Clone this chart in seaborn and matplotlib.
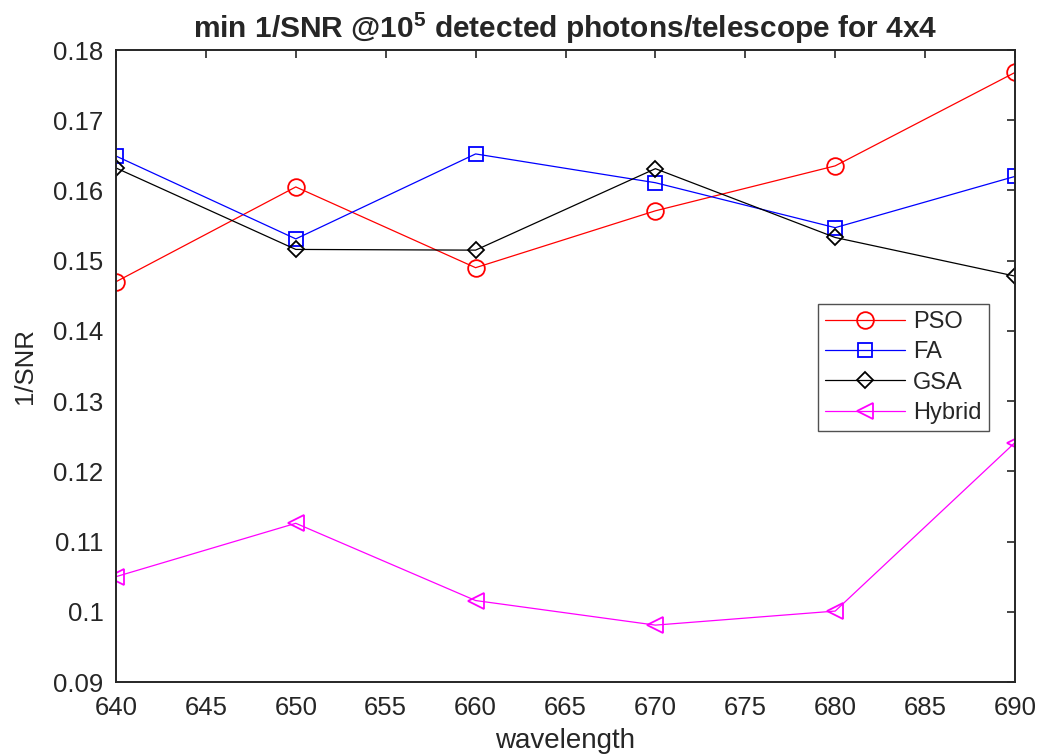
import matplotlib
matplotlib.use("Agg")
import matplotlib.pyplot as plt
import seaborn as sns
import pandas as pd
from matplotlib.ticker import MultipleLocator, FuncFormatter

# Wavelengths (nm) and minimum 1/SNR per optimiser
wavelength = [640, 650, 660, 670, 680, 690]
pso = [0.1470, 0.1605, 0.1490, 0.1571, 0.1635, 0.1768]
fa = [0.1649, 0.1531, 0.1652, 0.1611, 0.1547, 0.1620]
gsa = [0.1632, 0.1516, 0.1515, 0.1631, 0.1533, 0.1478]
hybrid = [0.1050, 0.1126, 0.1016, 0.0981, 0.1001, 0.1241]

series_names = ["PSO", "FA", "GSA", "Hybrid"]
series_values = [pso, fa, gsa, hybrid]
colors = ["#ff0000", "#0000ff", "#000000", "#ff00ff"]
markers = ["o", "s", "D", "<"]
msizes = [12, 9.5, 8.5, 12]

sns.set_style("white")
plt.rcParams["font.family"] = ["Liberation Sans", "DejaVu Sans"]
plt.rcParams["mathtext.fontset"] = "custom"
plt.rcParams["mathtext.rm"] = "Liberation Sans:bold"
plt.rcParams["mathtext.default"] = "rm"

df = pd.DataFrame({
    "wavelength": wavelength * len(series_names),
    "value": sum(series_values, []),
    "method": sum([[n] * len(wavelength) for n in series_names], []),
})

fig = plt.figure(figsize=(10.39, 7.56), dpi=100)
ax = fig.add_axes([116 / 1039, 1 - 682 / 756, (1015 - 116) / 1039, (682 - 50) / 756])

for name, c, m, ms in zip(series_names, colors, markers, msizes):
    sub = df[df["method"] == name]
    sns.lineplot(data=sub, x="wavelength", y="value", ax=ax, color=c, lw=0.9,
                 marker=m, markersize=ms, markerfacecolor="none",
                 markeredgecolor=c, markeredgewidth=1.3, label=name)

ax.set_xlim(640, 690)
ax.set_ylim(0.09, 0.18)
ax.xaxis.set_major_locator(MultipleLocator(5))
ax.yaxis.set_major_locator(MultipleLocator(0.01))
ax.yaxis.set_major_formatter(FuncFormatter(lambda v, p: f"{v:.2f}".rstrip("0")))
ax.tick_params(direction="in", length=6, width=1.2, top=True, right=True,
               labelsize=18.5, colors="#262626")
ax.tick_params(axis="x", pad=10)
ax.tick_params(axis="y", pad=9)
for s in ax.spines.values():
    s.set_color("#262626")
    s.set_linewidth(1.4)

ax.set_xlabel("wavelength", fontsize=20, color="#262626", labelpad=6)
ax.set_ylabel("1/SNR", fontsize=18.5, color="#262626", labelpad=12)
ax.set_title(r"min 1/SNR @10$^{5}$ detected photons/telescope for 4x4",
             fontsize=21.5, fontweight="bold", pad=9)

leg = ax.legend(loc="upper left", bbox_to_anchor=(0.7805, 0.598), fontsize=17,
                frameon=True, fancybox=False, edgecolor="#262626",
                handlelength=3.4, handletextpad=0.35, borderpad=0.3,
                labelspacing=0.35, borderaxespad=0)
leg.get_frame().set_linewidth(1.0)

fig.savefig("out.png", dpi=100)
